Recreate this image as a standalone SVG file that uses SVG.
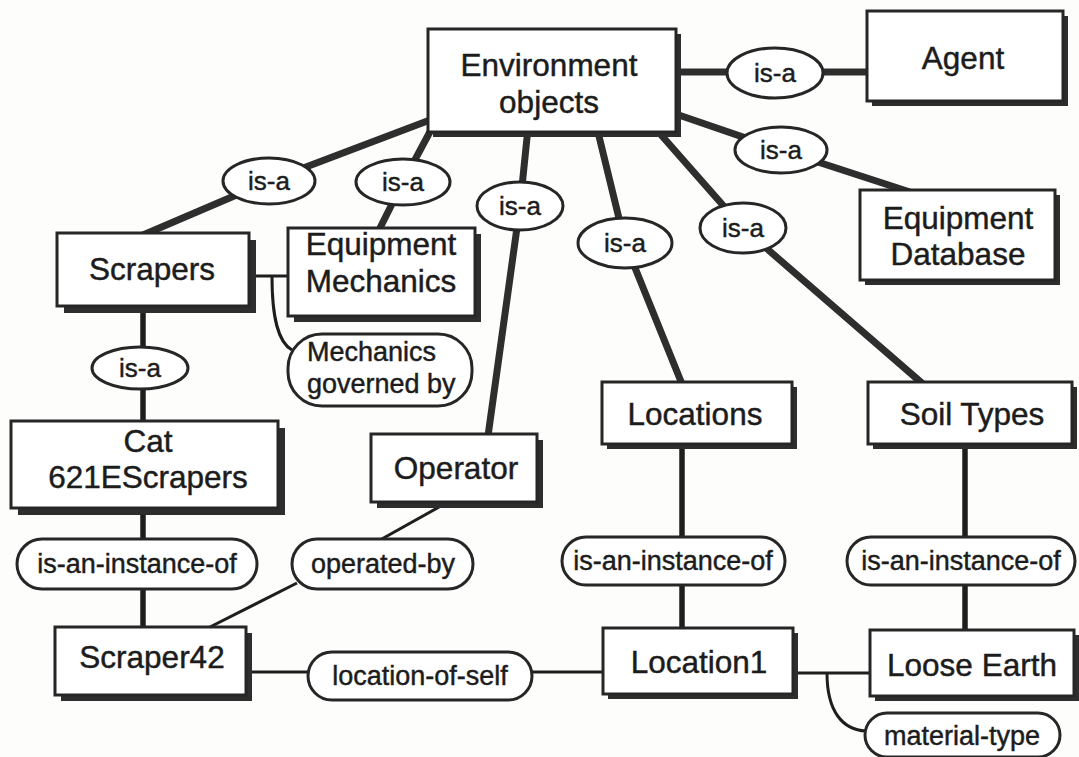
<svg xmlns="http://www.w3.org/2000/svg" width="1079" height="757" viewBox="0 0 1079 757">
<style>
.bg{fill:#fdfdfc}
.sh{fill:#2e2e2e}
.bx{fill:#fff;stroke:#262626;stroke-width:3}
.rel{fill:#fff;stroke:#262626;stroke-width:3}
.thick{fill:none;stroke:#2e2e2e;stroke-width:7;stroke-linecap:butt}
.mid{fill:none;stroke:#1e1e1e;stroke-width:5.5}
.thin{fill:none;stroke:#1e1e1e;stroke-width:3}
text{font-family:"Liberation Sans",Arial,Helvetica,sans-serif;fill:#1c1c1c;stroke:#1c1c1c;stroke-width:0.45}
.t{font-size:31.5px;text-anchor:middle}
.r{font-size:27px;text-anchor:middle}
.i{font-size:26px;text-anchor:middle}
</style>
<rect class="bg" x="0" y="0" width="1079" height="757"/>
<g id="connectors">
<path class="thick" d="M677,72 H867"/>
<path class="thick" d="M670,112 L781,150 L910,192"/>
<path class="thick" d="M655,128 L743,228 L923,384"/>
<path class="thick" d="M597,128 L625,243 L682,384"/>
<path class="thick" d="M528,128 L520,206 L488,436"/>
<path class="thick" d="M432,128 L403,182 L379,230"/>
<path class="thick" d="M430,120 L269,181 L143,235"/>
<path class="mid" d="M143,306 V421"/>
<path class="mid" d="M143,509 V627"/>
<path class="mid" d="M682,446 V628"/>
<path class="mid" d="M965,446 V630"/>
<path class="thin" d="M448,502 L380,540"/>
<path class="thin" d="M297,583 L210,627"/>
<path class="thin" d="M247,672 H308"/>
<path class="thin" d="M532,672 H603"/>
<path class="thin" d="M795,673 H870"/>
<path class="thin" d="M827,673 C827,712 843,730 866,731"/>
<path class="thin" d="M249,276 H288"/>
<path class="thin" d="M272,276 C272,318 278,342 292,350"/>
</g>
<g id="env">
<rect class="sh" x="433" y="34" width="248" height="103"/>
<rect class="bx" x="428" y="29" width="248" height="103"/>
<text class="t" x="549" y="76">Environment</text>
<text class="t" x="549" y="113">objects</text>
</g>
<g id="agent">
<rect class="sh" x="872" y="16" width="196" height="90"/>
<rect class="bx" x="867" y="11" width="196" height="90"/>
<text class="t" x="963" y="69">Agent</text>
</g>
<g id="isa-agent"><ellipse class="rel" cx="775" cy="73" rx="48" ry="25"/><text class="i" x="775" y="82">is-a</text></g>
<g id="isa-eqdb"><ellipse class="rel" cx="781" cy="150" rx="46" ry="23"/><text class="i" x="781" y="159">is-a</text></g>
<g id="eqdb">
<rect class="sh" x="865" y="195" width="195" height="90"/>
<rect class="bx" x="860" y="190" width="195" height="90"/>
<text class="t" x="958" y="229">Equipment</text>
<text class="t" x="958" y="265">Database</text>
</g>
<g id="isa-scrapers"><ellipse class="rel" cx="269" cy="181" rx="46" ry="23"/><text class="i" x="269" y="190">is-a</text></g>
<g id="isa-eqmech"><ellipse class="rel" cx="403" cy="182" rx="47" ry="23"/><text class="i" x="403" y="191">is-a</text></g>
<g id="isa-operator"><ellipse class="rel" cx="520" cy="206" rx="43" ry="24"/><text class="i" x="520" y="215">is-a</text></g>
<g id="isa-locations"><ellipse class="rel" cx="625" cy="243" rx="47" ry="25"/><text class="i" x="625" y="252">is-a</text></g>
<g id="isa-soil"><ellipse class="rel" cx="743" cy="228" rx="43" ry="25"/><text class="i" x="743" y="237">is-a</text></g>
<g id="scrapers">
<rect class="sh" x="64" y="240" width="192" height="73"/>
<rect class="bx" x="57" y="233" width="192" height="73"/>
<text class="t" x="152" y="280">Scrapers</text>
</g>
<g id="eqmech">
<rect class="sh" x="294" y="234" width="187" height="88"/>
<rect class="bx" x="288" y="228" width="187" height="88"/>
<text class="t" x="381" y="255">Equipment</text>
<text class="t" x="381" y="292">Mechanics</text>
</g>
<g id="mech-governed">
<rect class="rel" x="288" y="334" width="184" height="72" rx="34" ry="34"/>
<text class="r" x="307" y="361" style="text-anchor:start">Mechanics</text>
<text class="r" x="307" y="393" style="text-anchor:start">governed by</text>
</g>
<g id="isa-cat"><ellipse class="rel" cx="140" cy="368" rx="48" ry="21"/><text class="i" x="140" y="377">is-a</text></g>
<g id="cat">
<rect class="sh" x="18" y="428" width="267" height="87"/>
<rect class="bx" x="11" y="421" width="267" height="87"/>
<text class="t" x="148" y="452">Cat</text>
<text class="t" x="148" y="488">621EScrapers</text>
</g>
<g id="operator">
<rect class="sh" x="377" y="440" width="166" height="68"/>
<rect class="bx" x="371" y="434" width="166" height="68"/>
<text class="t" x="456" y="479">Operator</text>
</g>
<g id="inst-cat">
<rect class="rel" x="17" y="539" width="240" height="50" rx="25" ry="25"/>
<text class="r" x="137" y="573">is-an-instance-of</text>
</g>
<g id="operated-by">
<rect class="rel" x="292" y="539" width="181" height="50" rx="25" ry="25"/>
<text class="r" x="383" y="573">operated-by</text>
</g>
<g id="scraper42">
<rect class="sh" x="61" y="633" width="191" height="68"/>
<rect class="bx" x="55" y="627" width="191" height="68"/>
<text class="t" x="152" y="668">Scraper42</text>
</g>
<g id="location-of-self">
<rect class="rel" x="308" y="652" width="224" height="48" rx="24" ry="24"/>
<text class="r" x="420" y="685">location-of-self</text>
</g>
<g id="locations">
<rect class="sh" x="607" y="387" width="190" height="62"/>
<rect class="bx" x="602" y="382" width="190" height="62"/>
<text class="t" x="695" y="425">Locations</text>
</g>
<g id="soil">
<rect class="sh" x="873" y="387" width="204" height="62"/>
<rect class="bx" x="868" y="382" width="204" height="62"/>
<text class="t" x="972" y="425">Soil Types</text>
</g>
<g id="inst-loc">
<rect class="rel" x="562" y="537" width="223" height="48" rx="24" ry="24"/>
<text class="r" x="673" y="570">is-an-instance-of</text>
</g>
<g id="inst-soil">
<rect class="rel" x="847" y="537" width="228" height="48" rx="24" ry="24"/>
<text class="r" x="961" y="570">is-an-instance-of</text>
</g>
<g id="location1">
<rect class="sh" x="608" y="633" width="190" height="66"/>
<rect class="bx" x="603" y="628" width="190" height="66"/>
<text class="t" x="699" y="673">Location1</text>
</g>
<g id="loose-earth">
<rect class="sh" x="875" y="635" width="204" height="66"/>
<rect class="bx" x="870" y="630" width="204" height="66"/>
<text class="t" x="972" y="676">Loose Earth</text>
</g>
<g id="material-type">
<rect class="rel" x="865" y="713" width="195" height="44" rx="22" ry="22"/>
<text class="r" x="962" y="745">material-type</text>
</g>
</svg>
